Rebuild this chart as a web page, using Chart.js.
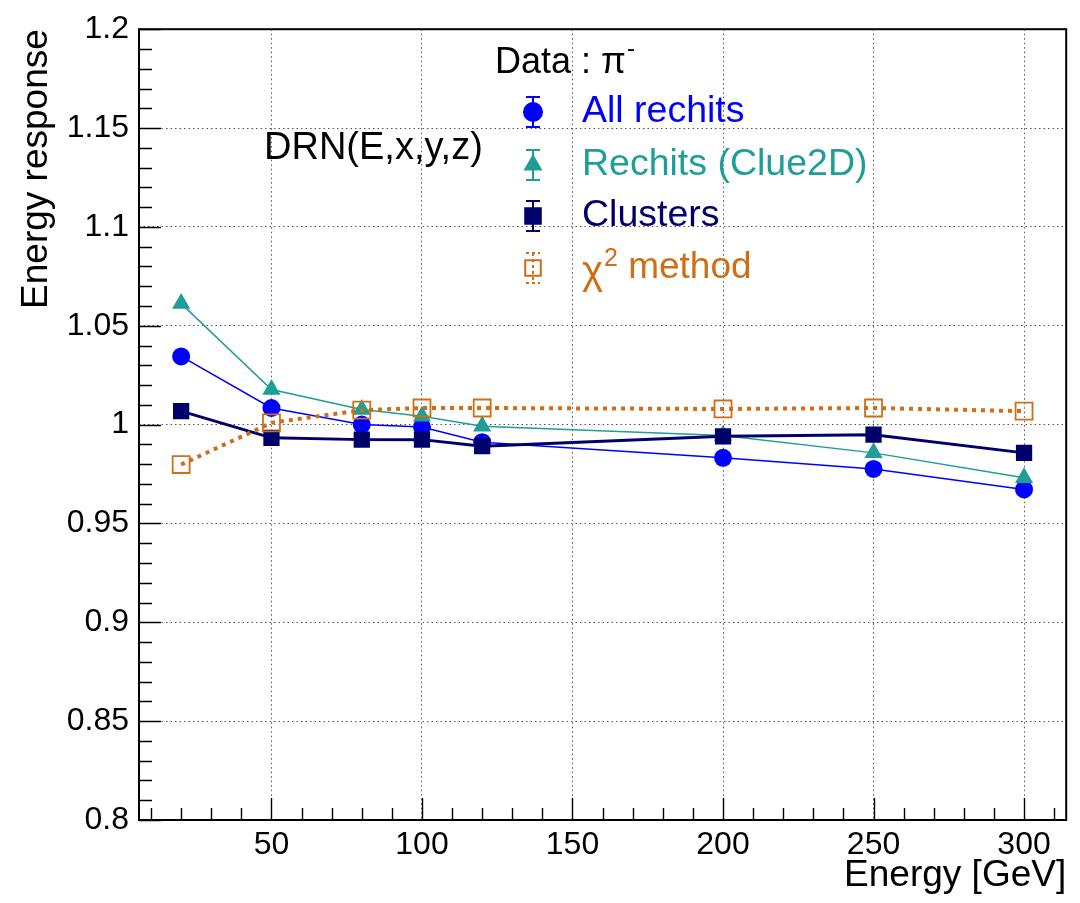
<!DOCTYPE html>
<html>
<head>
<meta charset="utf-8">
<script src="https://cdn.jsdelivr.net/npm/chart.js@4.4.1/dist/chart.umd.min.js"></script>
<style>
  html, body { margin: 0; padding: 0; background: #fff; }
  #wrap { width: 1080px; height: 903px; }
</style>
</head>
<body>
<div id="wrap"><canvas id="responseChart" width="1080" height="903"></canvas></div>
<script>
const FONT = '"Liberation Sans", Arial, Helvetica, sans-serif';

const ENERGIES = [20, 50, 80, 100, 120, 200, 250, 300];
const ALL_RECHITS = [1.0345, 1.0084, 1.0000, 0.9988, 0.9911, 0.9832, 0.9776, 0.9672];
const RECHITS_CLUE2D = [1.0612, 1.0177, 1.0076, 1.0042, 0.9992, 0.9945, 0.9857, 0.9731];
const CLUSTERS = [1.0068, 0.9933, 0.9924, 0.9924, 0.9891, 0.9941, 0.9949, 0.9857];
const CHI2_METHOD = [0.9798, 1.0009, 1.0073, 1.0084, 1.0084, 1.0079, 1.0084, 1.0068];

const X_TICKS = [50, 100, 150, 200, 250, 300];
const Y_TICKS = [0.8, 0.85, 0.9, 0.95, 1, 1.05, 1.1, 1.15, 1.2];

const BLUE = "#0000ff";
const TEAL = "#1f9d97";
const NAVY = "#00006b";
const ORANGE = "#d06e16";

const points = (vals) => ENERGIES.map((e, i) => ({ x: e, y: vals[i] }));

// inner tick marks (ROOT style) and the frame
const frameTicks = {
  id: "frameTicks",
  afterDatasetsDraw(chart) {
    const { ctx, chartArea: a, scales } = chart;
    const x = scales.x, y = scales.y;
    ctx.save();
    ctx.strokeStyle = "#000";
    ctx.lineWidth = 1.4;
    ctx.beginPath();
    for (let k = 80; k <= 120; k++) {
      const py = Math.round(y.getPixelForValue(k / 100)) + 0.5;
      const len = k % 5 === 0 ? 22 : 13;
      ctx.moveTo(a.left, py);
      ctx.lineTo(a.left + len, py);
    }
    for (let e = 10; e <= 310; e += 10) {
      const px = Math.round(x.getPixelForValue(e)) + 0.5;
      const len = e % 50 === 0 ? 22 : 12;
      ctx.moveTo(px, a.bottom);
      ctx.lineTo(px, a.bottom - len);
    }
    ctx.stroke();
    ctx.lineWidth = 2;
    ctx.strokeRect(a.left, a.top, a.right - a.left, a.bottom - a.top);
    ctx.restore();
  },
};

function marker(ctx, style, cx, cy, r, fill, stroke) {
  ctx.beginPath();
  if (style === "circle") {
    ctx.arc(cx, cy, r, 0, Math.PI * 2);
  } else if (style === "triangle") {
    ctx.moveTo(cx, cy - r);
    ctx.lineTo(cx + r * 0.866, cy + r * 0.5);
    ctx.lineTo(cx - r * 0.866, cy + r * 0.5);
    ctx.closePath();
  } else {
    const h = r * Math.SQRT1_2;
    ctx.rect(cx - h, cy - h, 2 * h, 2 * h);
  }
  if (fill && fill !== "transparent") {
    ctx.fillStyle = fill;
    ctx.fill();
  }
  ctx.strokeStyle = stroke;
  ctx.lineWidth = 2;
  ctx.stroke();
}

// legend box and the DRN label
const legendText = {
  id: "legendText",
  afterDraw(chart) {
    const { ctx } = chart;
    ctx.save();
    ctx.textBaseline = "middle";
    ctx.textAlign = "left";

    ctx.fillStyle = "#000";
    ctx.font = `38px ${FONT}`;
    ctx.fillText("DRN(E,x,y,z)", 264, 149);

    ctx.font = `36px ${FONT}`;
    ctx.fillText("Data : \u03c0", 495, 63);
    const w = ctx.measureText("Data : \u03c0").width;
    ctx.font = `24px ${FONT}`;
    ctx.fillText("-", 495 + w + 1, 49);

    const rows = [112, 165, 216, 268];
    chart.data.datasets.forEach((ds, i) => {
      const cy = rows[i];
      const cx = 533;
      const col = ds.borderColor;
      ctx.strokeStyle = col;
      ctx.lineWidth = 2;
      ctx.setLineDash(ds.borderDash && ds.borderDash.length ? [3, 3] : []);
      ctx.beginPath();
      ctx.moveTo(cx, cy - 15);
      ctx.lineTo(cx, cy + 15);
      ctx.moveTo(cx - 7, cy - 15);
      ctx.lineTo(cx + 7, cy - 15);
      ctx.moveTo(cx - 7, cy + 15);
      ctx.lineTo(cx + 7, cy + 15);
      ctx.stroke();
      ctx.setLineDash([]);
      const r = ds.pointStyle === "rect" ? 11 : 9;
      marker(ctx, ds.pointStyle, cx, cy, r, ds.pointBackgroundColor, col);

      ctx.fillStyle = col;
      if (ds.label === "chi2") {
        ctx.font = `40px ${FONT}`;
        ctx.fillText("\u03c7", 582, cy + 5);
        const cw = ctx.measureText("\u03c7").width;
        ctx.font = `25px ${FONT}`;
        ctx.fillText("2", 582 + cw + 1, cy - 9);
        const tw = ctx.measureText("2").width;
        ctx.font = `37px ${FONT}`;
        ctx.fillText(" method", 582 + cw + tw + 1, cy);
      } else {
        ctx.font = `37.5px ${FONT}`;
        ctx.fillText(ds.label, 582, cy);
      }
    });
    ctx.restore();
  },
};

new Chart(document.getElementById("responseChart"), {
  type: "scatter",
  data: {
    datasets: [
      {
        label: "All rechits",
        data: points(ALL_RECHITS),
        showLine: true,
        borderColor: BLUE,
        backgroundColor: BLUE,
        pointBackgroundColor: BLUE,
        borderWidth: 1.5,
        pointStyle: "circle",
        pointRadius: 9,
        pointBorderWidth: 0,
        order: 3,
      },
      {
        label: "Rechits (Clue2D)",
        data: points(RECHITS_CLUE2D),
        showLine: true,
        borderColor: TEAL,
        backgroundColor: TEAL,
        pointBackgroundColor: TEAL,
        borderWidth: 1.5,
        pointStyle: "triangle",
        pointRadius: 10.5,
        pointBorderWidth: 0,
        order: 2,
      },
      {
        label: "Clusters",
        data: points(CLUSTERS),
        showLine: true,
        borderColor: NAVY,
        backgroundColor: NAVY,
        pointBackgroundColor: NAVY,
        borderWidth: 3,
        pointStyle: "rect",
        pointRadius: 11.5,
        pointBorderWidth: 0,
        order: 1,
      },
      {
        label: "chi2",
        data: points(CHI2_METHOD),
        showLine: true,
        borderColor: ORANGE,
        backgroundColor: "transparent",
        pointBackgroundColor: "transparent",
        pointBorderColor: ORANGE,
        borderWidth: 4,
        borderDash: [4, 5],
        pointStyle: "rect",
        pointRadius: 12,
        pointBorderWidth: 1.8,
        order: 0,
      },
    ],
  },
  options: {
    responsive: false,
    animation: false,
    devicePixelRatio: 1,
    layout: { padding: { left: 0, right: 10, top: 22, bottom: 0 } },
    plugins: { legend: { display: false }, tooltip: { enabled: false } },
    scales: {
      x: {
        type: "linear",
        min: 6,
        max: 314,
        afterBuildTicks: (s) => { s.ticks = X_TICKS.map((v) => ({ value: v })); },
        afterFit: (s) => { s.height = 83; },
        grid: { color: "#555", lineWidth: 1, drawTicks: false },
        border: { display: false, dash: [1.5, 3] },
        ticks: {
          color: "#000",
          font: { size: 32, family: FONT },
          padding: 6,
          maxRotation: 0,
          autoSkip: false,
        },
        title: {
          display: true,
          text: "Energy [GeV]",
          align: "end",
          color: "#000",
          font: { size: 37, family: FONT },
          padding: { top: 0, bottom: 5 },
        },
      },
      y: {
        min: 0.8,
        max: 1.2,
        afterBuildTicks: (s) => { s.ticks = Y_TICKS.map((v) => ({ value: v })); },
        afterFit: (s) => { s.width = 139; },
        grid: { color: "#555", lineWidth: 1, drawTicks: false },
        border: { display: false, dash: [1.5, 3] },
        ticks: {
          color: "#000",
          font: { size: 32, family: FONT },
          padding: 10,
          callback: (v) => String(+Number(v).toFixed(2)),
        },
        title: {
          display: true,
          text: "Energy response",
          align: "end",
          color: "#000",
          font: { size: 37, family: FONT },
          padding: { top: 15, bottom: 0 },
        },
      },
    },
  },
  plugins: [frameTicks, legendText],
});
</script>
</body>
</html>
